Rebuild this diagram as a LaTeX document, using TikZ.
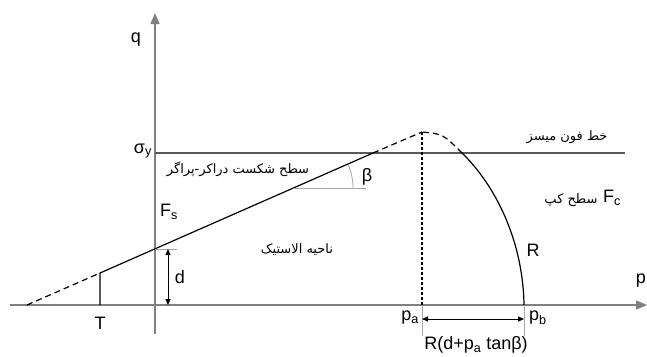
\documentclass[tikz,border=0pt]{standalone}
\usepackage{fontspec}
\setmainfont{Liberation Sans}
\newfontfamily\fa[Script=Arabic]{DejaVu Sans}
\TeXXeTstate=1
\usetikzlibrary{arrows.meta}
\begin{document}
\begin{tikzpicture}[x=1pt,y=-1pt,
  axis/.style={draw=black!50,line width=1.4pt},
  mainline/.style={draw=black,line width=1.2pt},
  dashline/.style={draw=black,line width=1.2pt,dash pattern=on 6pt off 4pt},
  dotline/.style={draw=black,line width=1.1pt,dash pattern=on 3pt off 2pt},
  thin/.style={draw=black!35,line width=0.8pt},
  big/.style={font=\fontsize{18}{20}\selectfont,inner sep=0pt},
  fatext/.style={font=\fa\fontsize{13}{15}\selectfont,inner sep=0pt},
  axtip/.style={-{Triangle[length=11pt,width=9pt]}},
  dimtip/.style={{Triangle[length=6pt,width=5pt]}-{Triangle[length=6pt,width=5pt]}}
]
\useasboundingbox (0,0) rectangle (647,356);
% coordinates
\coordinate (pL) at (10,305);
\coordinate (pR) at (647,305);
\coordinate (qB) at (155,334);
\coordinate (qT) at (155,13);
\coordinate (syL) at (155,153);
\coordinate (syR) at (625,153);
\coordinate (T0) at (27,305);
\coordinate (T1) at (100,273);
\coordinate (Tb) at (100,305);
\coordinate (Dq) at (155,249);
\coordinate (Dx) at (373,153);
\coordinate (A) at (422,132);
\coordinate (pa) at (422,305);
\coordinate (paB) at (422,336);
\coordinate (pb) at (524,305);
\coordinate (pbB) at (524,336);
\coordinate (C) at (462,153);
\coordinate (dT) at (168,249);
\coordinate (dB) at (168,305);
\coordinate (dTick) at (177,249);
\coordinate (bL) at (293,188);
\coordinate (bR) at (366,188);
\coordinate (ra) at (422,319);
\coordinate (rb) at (524,319);
% axes
\draw[axis,axtip] (pL) -- (pR);
\draw[axis,axtip] (qB) -- (qT);
% von Mises line
\draw[draw=black!65,line width=1.4pt] (syL) -- (syR);
% Drucker-Prager
\draw[dashline] (T0) -- (T1);
\draw[mainline] (Tb) -- (T1) -- (Dx);
\draw[dashline] (Dx) -- (A);
% cap
\draw[mainline] (pb) .. controls (523,240) and (495,185) .. (C);
\draw[dashline] (C) .. controls (443,134) .. (A);
\draw[dotline] (A) -- (pa);
% beta
\draw[thin] (bL) -- (bR);
\draw[thin] plot[domain=0:23.7,samples=20,smooth] ({293+60*cos(\x)},{188-60*sin(\x)});
% d
\draw[thin] (Dq) -- (dTick);
\draw[black,line width=0.9pt,dimtip] (dT) -- (dB);
% R dimension
\draw[thin] (pa) -- (paB);
\draw[thin] (pb) -- (pbB);
\draw[black,line width=0.9pt,dimtip] (ra) -- (rb);
% labels
\node[big] (lq) at (136,40) {q};
\node[big,anchor=east] (lp) at (646,281) {p};
\node[big,anchor=east] (lsy) at (152,151) {σ\textsubscript{y}};
\node[big] (lT) at (100,323) {T};
\node[big] (ld) at (180,277) {d};
\node[big] (lFs) at (169,212) {F\textsubscript{s}};
\node[big] (lbeta) at (367,177) {β};
\node[big] (lR) at (533,250) {R};
\node[big] (lFc) at (612,198) {F\textsubscript{c}};
\node[big,anchor=east] (lpa) at (419,318) {p\textsubscript{a}};
\node[big,anchor=west] (lpb) at (529,318) {p\textsubscript{b}};
\node[big] (lRd) at (476,345) {R(d+p\textsubscript{a} tanβ)};
\node[fatext] (tvm) at (567,137) {\beginR خط فون میسز\endR};
\node[fatext] (tdp) at (238,169) {\beginR سطح شکست دراکر-پراگر\endR};
\node[fatext] (tel) at (297,250) {\beginR ناحیه الاستیک\endR};
\node[fatext] (tcap) at (571,200) {\beginR سطح کپ\endR};
\end{tikzpicture}
\end{document}
